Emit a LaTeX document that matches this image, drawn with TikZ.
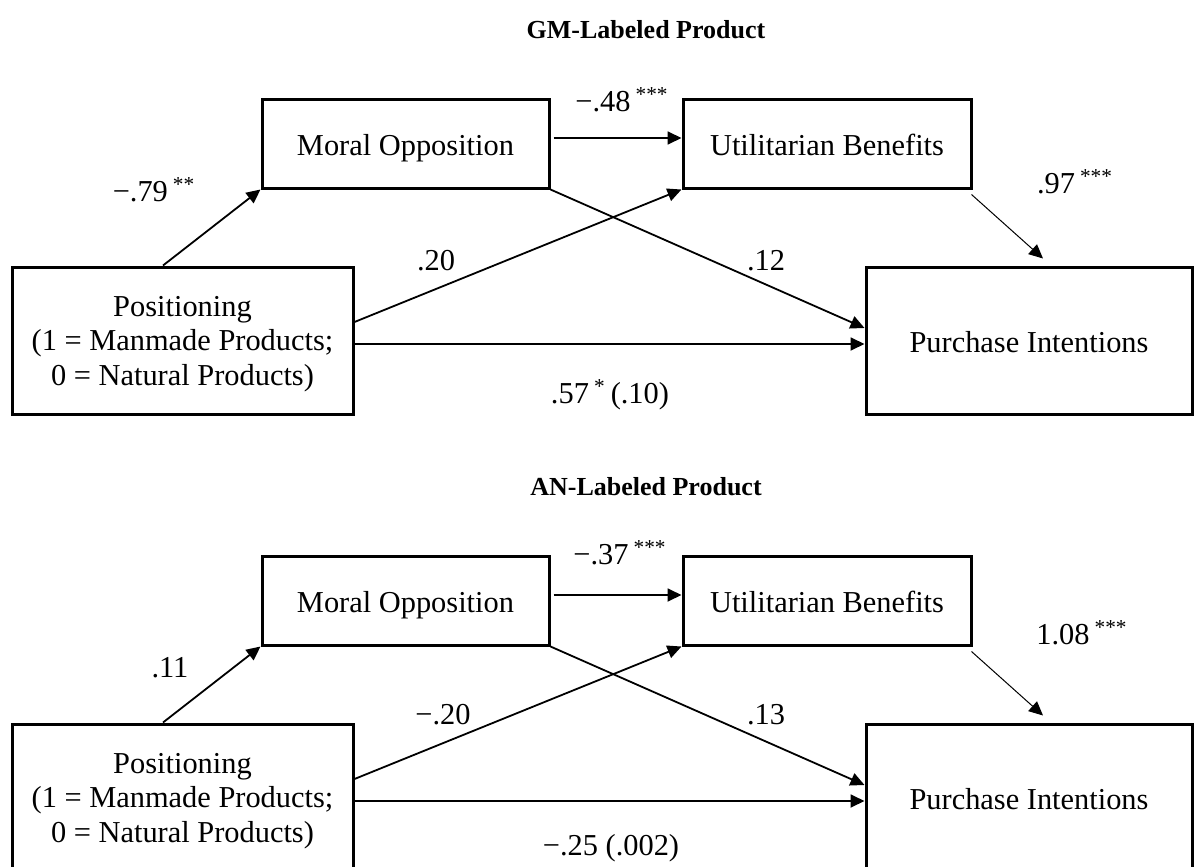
\documentclass[tikz,border=0pt]{standalone}
\usepackage{fontspec}
\setmainfont{Liberation Serif}
\usetikzlibrary{arrows.meta,positioning,calc}
\newcommand{\stars}[1]{\,\textsuperscript{#1}}

\begin{document}
\begin{tikzpicture}[x=0.5pt,y=-0.5pt,
    box/.style={draw, line width=1.5pt, align=center, inner sep=0pt,
                font=\fontsize{15.2}{17.25}\selectfont},
    oneline/.style={text height=11.6pt, text depth=0pt},
    link/.style={line width=0.9pt, -{Triangle[length=7pt,width=6.5pt]}},
    coef/.style={font=\fontsize{15.2}{17}\selectfont, inner sep=0pt},
    heading/.style={font=\fontsize{13}{15}\selectfont\bfseries}]
  \useasboundingbox (0,0) rectangle (1195,867);
  \clip (0,0) rectangle (1195,867);
  % two panels, same layout
  \foreach \p/\dy/\ttl in {gm/0/GM-Labeled Product, an/457/AN-Labeled Product}{
    \node[heading] (t-\p) at (646,{30+\dy}) {\ttl};
    \node[box, oneline, minimum width=143.5pt, minimum height=44.5pt] (mo-\p) at (405.5,{143.5+\dy}) {Moral Opposition};
    \node[box, oneline, minimum width=144pt, minimum height=44.5pt] (ub-\p) at (827,{143.5+\dy}) {Utilitarian Benefits};
    \node[box, text depth=-2.5pt, minimum width=170.5pt, minimum height=73.5pt] (pos-\p) at (182.5,{340.5+\dy})
      {Positioning\\(1 = Manmade Products;\\0 = Natural Products)};
    \node[box, oneline, minimum width=163pt, minimum height=73.5pt] (pi-\p) at (1029,{340.5+\dy}) {Purchase Intentions};
    \draw[link] ($(pos-\p.north)+(-19.5,0)$) -- (mo-\p.south west);
    \draw[link] ($(mo-\p.east)+(3,-5.5)$) -- ($(ub-\p.west)+(0,-5.5)$);
    \draw[link] ($(pos-\p.east)+(0,-18.5)$) -- (ub-\p.south west);
    \draw[link] (mo-\p.south east) -- ($(pi-\p.west)+(0,-12.5)$);
    \draw[link] ($(pos-\p.east)+(0,3.5)$) -- ($(pi-\p.west)+(0,3.5)$);
    \draw[link, line width=0.5pt] ($(ub-\p.south east)+(-1,5)$) -- ($(pi-\p.north)+(14,-7)$);
  }
  % coefficients, GM panel
  \node[coef] (c-mo-gm) at (154,190) {−.79\stars{**}};
  \node[coef] (c-ub-gm) at (622,100) {−.48\stars{***}};
  \node[coef] (c-pu-gm) at (436,261) {.20};
  \node[coef] (c-mp-gm) at (766,261) {.12};
  \node[coef] (c-up-gm) at (1075,182) {.97\stars{***}};
  \node[coef] (c-pp-gm) at (610,395) {.57\stars{*}\,(.10)};
  % coefficients, AN panel
  \node[coef] (c-mo-an) at (170,668) {.11};
  \node[coef] (c-ub-an) at (620,553) {−.37\stars{***}};
  \node[coef] (c-pu-an) at (443,715) {−.20};
  \node[coef] (c-mp-an) at (766,715) {.13};
  \node[coef] (c-up-an) at (1082,633) {1.08\stars{***}};
  \node[coef] (c-pp-an) at (611,848) {−.25 (.002)};
\end{tikzpicture}
\end{document}
